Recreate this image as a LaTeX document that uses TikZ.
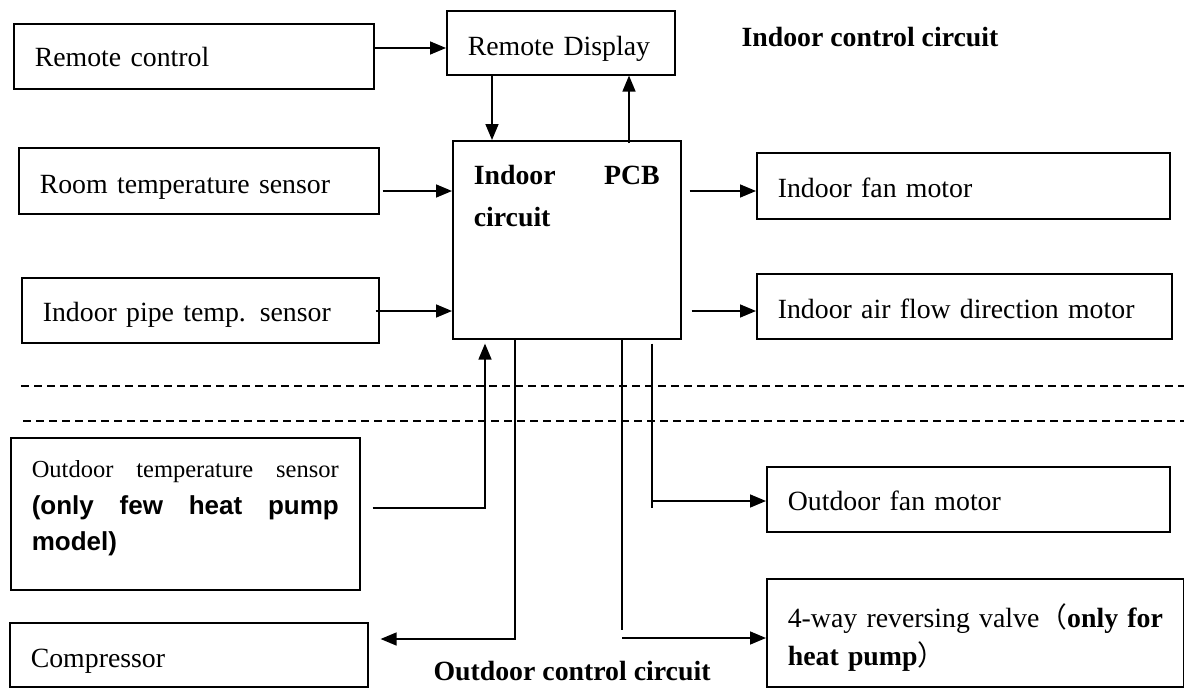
\documentclass[tikz,border=0pt]{standalone}
\usepackage{fontspec}
\setmainfont{Liberation Serif}
\newfontfamily\hei{Liberation Sans}
\newfontfamily\cjk{Noto Sans CJK SC}
\usetikzlibrary{arrows.meta}
\newcommand\bodyfont{\fontsize{27.8}{37}\selectfont}

\begin{document}
\begin{tikzpicture}[x=1pt,y=-1pt,every node/.style={font=\bodyfont},
  box/.style={draw,line width=1.6pt,anchor=north west,inner xsep=21pt,inner ysep=0pt,align=left},
  arr/.style={line width=1.6pt,-{Triangle[length=16pt,width=13pt]}},
  wire/.style={line width=1.6pt},
  sep/.style={line width=1.4pt,dash pattern=on 8pt off 5pt},
  lbl/.style={anchor=base west,font=\bodyfont\bfseries}]
\path[fill=white] (0,0) rectangle (1184,688);
\useasboundingbox (0,0) rectangle (1184,688);
% indoor side
\node[box,minimum width=360pt,minimum height=65pt,text width=318pt,text height=25pt,text depth=4pt] (rc) at (13,23) {Remote control};
\node[box,minimum width=228pt,minimum height=64pt,text width=186pt,text height=30pt,text depth=4pt] (rd) at (446,10) {Remote Display};
\node[box,minimum width=360pt,minimum height=66pt,text width=318pt,text height=30pt,text depth=4pt] (rts) at (18,147) {Room temperature sensor};
\node[box,minimum width=357pt,minimum height=65pt,text width=315pt,text height=27pt,text depth=4pt] (ips) at (21,277) {Indoor pipe temp. sensor};
\node[box,minimum width=228pt,minimum height=198pt,text width=186pt,text height=10pt,text depth=120pt,font=\fontsize{27.8}{42}\selectfont\bfseries] (pcb) at (452,140) {Indoor\hfill PCB\\circuit};
\node[box,minimum width=413pt,minimum height=66pt,text width=371pt,text height=28pt,text depth=4pt] (ifm) at (756,152) {Indoor fan motor};
\node[box,minimum width=415pt,minimum height=65pt,text width=373pt,text height=29pt,text depth=4pt] (iaf) at (756,273) {Indoor air flow direction motor};
\node[lbl] (inlbl) at (738,46) {Indoor control circuit};
% outdoor side
\node[box,minimum width=349pt,minimum height=152pt,text width=307pt,text height=10pt,text depth=82pt,font=\fontsize{24.5}{36.5}\selectfont] (ots) at (10,437) {Outdoor\hfill temperature\hfill sensor\\{\hei\bfseries\fontsize{26}{36.5}\selectfont (only\hfill few\hfill heat\hfill pump}\\{\hei\bfseries\fontsize{26}{36.5}\selectfont model)}};
\node[box,minimum width=358pt,minimum height=64pt,text width=316pt,text height=30pt,text depth=4pt] (comp) at (9,622) {Compressor};
\node[box,minimum width=403pt,minimum height=65pt,text width=361pt,text height=27pt,text depth=4pt] (ofm) at (766,466) {Outdoor fan motor};
\node[box,minimum width=417pt,minimum height=108pt,text width=375pt,text height=10pt,text depth=20pt,font=\fontsize{27.8}{38}\selectfont] (fwv) at (766,578) {\mbox{4-way reversing valve{\cjk （}\textbf{only for}}\\\textbf{heat pump}{\cjk ）}};
\node[lbl] (outlbl) at (430,680) {Outdoor control circuit};
% separation between indoor and outdoor
\draw[sep] (21,386) -- (1184,386);
\draw[sep] (23,421) -- (1184,421);
% links
\coordinate (ofmtap) at (652,508);
\coordinate (fwvtap) at (622,630);
\draw[arr] (rc.east |- 0,48) -- (rd.west |- 0,48);
\draw[arr] (rd.south -| 492,0) -- (pcb.north -| 492,0);
\draw[arr,shorten <=-3pt] (pcb.north -| 629,0) -- (rd.south -| 629,0);
\draw[arr,shorten <=3pt] (rts.east |- 0,191) -- (pcb.west |- 0,191);
\draw[arr,shorten <=-4pt] (ips.east |- 0,311) -- (pcb.west |- 0,311);
\draw[arr,shorten <=8pt] (pcb.east |- 0,191) -- (ifm.west |- 0,191);
\draw[arr,shorten <=10pt] (pcb.east |- 0,311) -- (iaf.west |- 0,311);
\draw[arr,shorten <=12pt,shorten >=4pt] (ots.east |- 0,508) -| (pcb.south -| 485,0);
\draw[arr,shorten >=12pt] (pcb.south -| 515,0) |- (comp.east |- 0,639);
\draw[wire,shorten <=4pt] (pcb.south -| ofmtap) -- (ofmtap);
\draw[arr] (ofmtap |- 0,501) -- (ofm.west |- 0,501);
\draw[wire] (pcb.south -| fwvtap) -- (fwvtap);
\draw[arr] (fwvtap |- 0,638) -- (fwv.west |- 0,638);
\end{tikzpicture}
\end{document}
